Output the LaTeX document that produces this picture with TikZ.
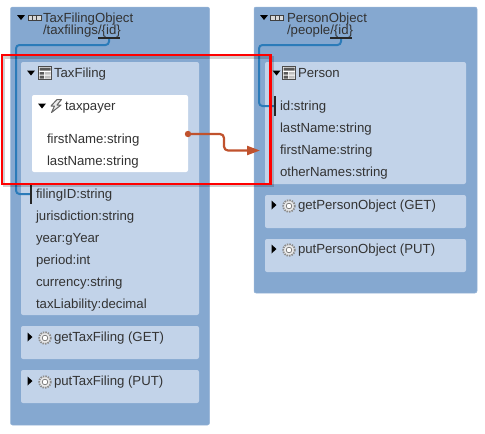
\documentclass[tikz,border=0pt]{standalone}
\usepackage{fontspec}
\setmainfont{Liberation Sans}
\usetikzlibrary{arrows.meta, positioning}
\definecolor{panelblue}{HTML}{85A8D0}
\definecolor{innerblue}{HTML}{C2D3E9}
\definecolor{linkblue}{HTML}{2B7BB9}
\definecolor{linkorange}{HTML}{C0522D}
\definecolor{txtgray}{HTML}{333333}

\begin{document}
\begin{tikzpicture}[x=1pt, y=-1pt,
  panel/.style={rectangle, rounded corners=2pt, fill=panelblue, draw=panelblue!85!white, line width=0.5pt, inner sep=0pt},
  inner/.style={rectangle, rounded corners=2pt, fill=innerblue, inner sep=0pt},
  whitebox/.style={rectangle, rounded corners=2pt, fill=white, inner sep=0pt},
  lbl/.style={anchor=base west, inner sep=0pt, outer sep=0pt, text=txtgray, font=\fontsize{13.2}{15}\selectfont},
  bar/.style={draw=black!85, line width=1.5pt},
  keylink/.style={draw=linkblue, line width=2pt, rounded corners=3.5pt},
  reflink/.style={draw=linkorange, line width=2.2pt, rounded corners=4pt, -{Triangle[length=13pt, width=9pt]}},
  tridn/.pic={\fill[black] (-4,-2.5) -- (4,-2.5) -- (0,2.5) -- cycle;},
  trirt/.pic={\fill[black] (-2.5,-4.5) -- (2.5,0) -- (-2.5,4.5) -- cycle;},
  porticon/.pic={\draw[black!75, fill=black!15, line width=0.7pt] (-6.5,-2.5) rectangle (6.5,2.5);
    \draw[black!75, line width=0.7pt] (-2,-2.5) -- (-2,2.5) (2,-2.5) -- (2,2.5);},
  gridicon/.pic={\draw[black!70, fill=white, line width=0.8pt] (-6.5,-6.5) rectangle (6.5,6.5);
    \fill[black!65] (-5.5,-5.5) rectangle (5.5,-2.5) (-5.5,-1) rectangle (-1,1.5) (-5.5,2.5) rectangle (-1,5.5);
    \fill[black!25] (0,-1) rectangle (5.5,1.5) (0,2.5) rectangle (5.5,5.5);},
  bolticon/.pic={\draw[black!60, fill=black!8, line width=1pt, line join=round] (1,-6.5) -- (-5,0) -- (-1.5,0) -- (-4.5,6.5) -- (5,-1) -- (1,-1) -- (5.5,-6.5) -- cycle;},
  gearicon/.pic={\draw[black!45, fill=black!8, line width=1.8pt, dash pattern=on 1.5pt off 1pt] (0,0) circle (5.8);
    \draw[black!55, fill=white, line width=0.7pt] (0,0) circle (2.8);}
]
  \useasboundingbox (0,0) rectangle (485,434);

  % panels
  \node[panel, minimum width=199pt, minimum height=418pt] (taxobj) at (110,216) {};
  \node[panel, minimum width=223pt, minimum height=286pt] (personobj) at (365.5,150) {};

  \node[inner, minimum width=178pt, minimum height=253pt] (taxfiling) at (110,188.5) {};
  \node[inner, minimum width=178pt, minimum height=33pt] (gettax) at (110,342.5) {};
  \node[inner, minimum width=178pt, minimum height=33pt] (puttax) at (110,386.5) {};
  \node[whitebox, minimum width=156pt, minimum height=77pt] (taxpayer) at (110,133.5) {};

  \node[inner, minimum width=201pt, minimum height=122pt] (person) at (365.5,123) {};
  \node[inner, minimum width=201pt, minimum height=33pt] (getperson) at (365.5,211.5) {};
  \node[inner, minimum width=201pt, minimum height=33pt] (putperson) at (365.5,255.5) {};

  % left labels
  \node[lbl] (taxobjname) at (43,22) {TaxFilingObject};
  \node[lbl] (taxobjpath) at (43,34) {/taxfilings/\{id\}};
  \node[lbl] (taxname) at (54,77) {TaxFiling};
  \node[lbl] (payername) at (65,110) {taxpayer};
  \node[lbl] (first) at (47,143) {firstName:string};
  \node[lbl] (last) at (47,165) {lastName:string};
  \node[lbl] (filingid) at (36,198) {filingID:string};
  \node[lbl] at (36,220) {jurisdiction:string};
  \node[lbl] at (36,242) {year:gYear};
  \node[lbl] at (36,264) {period:int};
  \node[lbl] at (36,286) {currency:string};
  \node[lbl] at (36,308) {taxLiability:decimal};
  \node[lbl] at (54,341) {getTaxFiling (GET)};
  \node[lbl] at (54,385) {putTaxFiling (PUT)};

  % right labels
  \node[lbl] (personobjname) at (287,22) {PersonObject};
  \node[lbl] (personobjpath) at (287,34) {/people/\{id\}};
  \node[lbl] (personname) at (298,77) {Person};
  \node[lbl] (personid) at (280,110) {id:string};
  \node[lbl] at (280,132) {lastName:string};
  \node[lbl] (personfirst) at (280,154) {firstName:string};
  \node[lbl] at (280,176) {otherNames:string};
  \node[lbl] at (298,209) {getPersonObject (GET)};
  \node[lbl] at (298,253) {putPersonObject (PUT)};

  % icons
  \pic at (21,17.5) {tridn};
  \pic at (34.5,18) {porticon};
  \pic at (31,73) {tridn};
  \pic at (45,73) {gridicon};
  \pic at (42,106) {tridn};
  \pic at (56,106) {bolticon};
  \pic at (30,337) {trirt};
  \pic at (45,338) {gearicon};
  \pic at (30,381) {trirt};
  \pic at (45,382) {gearicon};
  \pic at (264,17.5) {tridn};
  \pic at (277,18) {porticon};
  \pic at (276.5,73) {tridn};
  \pic at (289,73) {gridicon};
  \pic at (274,205) {trirt};
  \pic at (289,206) {gearicon};
  \pic at (274,249) {trirt};
  \pic at (289,250) {gearicon};

  % id keys
  \coordinate (taxkey) at (109,38);
  \coordinate (personkey) at (341,38);
  \coordinate (taxbar) at (31,194);
  \coordinate (personbar) at (275,106);
  \draw[keylink] (taxkey) |- (16,45) |- (taxbar);
  \draw[keylink] (personkey) |- (259,45) |- (personbar);
  \draw[bar] (98,38) -- (120,38);
  \draw[bar] (330,38) -- (352,38);
  \draw[bar] (31,185) -- (31,204);
  \draw[bar] (275,96) -- (275,116);

  % taxpayer link
  \coordinate (refstart) at (188,134);
  \coordinate (refend) at (260,150.5);
  \fill[linkorange] (refstart) circle (3.2);
  \draw[reflink] (refstart) -| (224,150.5) -- (refend);

  % highlight
  \draw[black, opacity=.18, line width=2.5pt] (4,57.5) rectangle (272.5,186);
  \draw[red, line width=2.4pt] (2,55) rectangle (270.5,184);
\end{tikzpicture}
\end{document}
